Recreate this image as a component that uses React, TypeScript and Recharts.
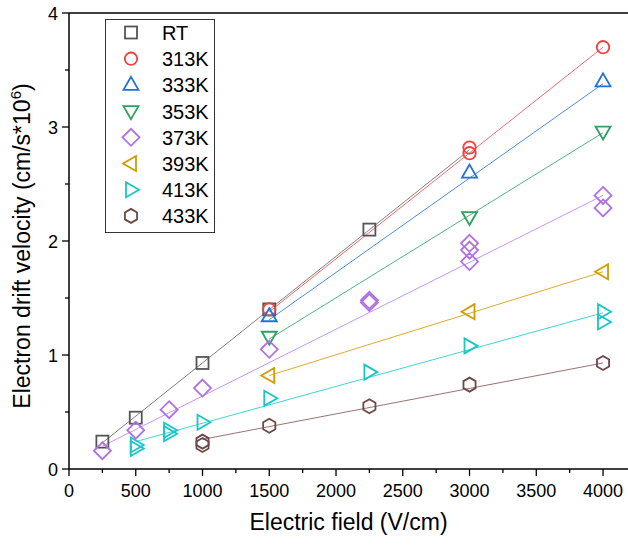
import React from 'react';
import { ScatterChart, Scatter, XAxis, YAxis, Legend, ReferenceLine } from 'recharts';

const FONT = '"Liberation Sans", Arial, sans-serif';

const xMajorTicks = [0, 500, 1000, 1500, 2000, 2500, 3000, 3500, 4000];
const xMinorTicks = [250, 750, 1250, 1750, 2250, 2750, 3250, 3750];
const yMajorTicks = [0, 1, 2, 3, 4];
const yMinorTicks = [0.5, 1.5, 2.5, 3.5];

const seriesNames = ['RT', '313K', '333K', '353K', '373K', '393K', '413K', '433K'];
const markerColors = ['#555555', '#F04040', '#2070E0', '#30A060', '#B070E6', '#D09C00', '#18C6C6', '#6E4848'];
const lineColors = ['#808080', '#F06A6A', '#4A8AF0', '#50B480', '#C498F0', '#DCAA30', '#40D4D4', '#9A7474'];
const markerShapes = ['square', 'circle', 'up', 'down', 'diamond', 'left', 'right', 'hexagon'];

// measured points [field, velocity]
const pointsRT = [[250, 0.24], [500, 0.45], [1000, 0.93], [1500, 1.40], [2250, 2.10]];
const points313 = [[1500, 1.40], [3000, 2.82], [3000, 2.77], [4000, 3.70]];
const points333 = [[1500, 1.34], [3000, 2.60], [4000, 3.40]];
const points353 = [[1500, 1.16], [3000, 2.21], [4000, 2.96]];
const points373 = [[250, 0.16], [500, 0.34], [750, 0.52], [1000, 0.71], [1500, 1.05], [2250, 1.48], [2250, 1.46], [3000, 1.98], [3000, 1.92], [3000, 1.82], [4000, 2.40], [4000, 2.29]];
const points393 = [[1500, 0.82], [3000, 1.38], [4000, 1.73]];
const points413 = [[500, 0.21], [500, 0.18], [750, 0.34], [750, 0.31], [1000, 0.41], [1500, 0.62], [2250, 0.85], [3000, 1.08], [4000, 1.38], [4000, 1.29]];
const points433 = [[1000, 0.24], [1000, 0.21], [1500, 0.38], [2250, 0.55], [3000, 0.74], [4000, 0.93]];

// linear fit lines [start, end]
const fitRT = [[250, 0.23], [3000, 2.80]];
const fit313 = [[1500, 1.38], [4000, 3.70]];
const fit333 = [[1500, 1.31], [4000, 3.38]];
const fit353 = [[1500, 1.14], [4000, 2.95]];
const fit373 = [[250, 0.20], [4000, 2.40]];
const fit393 = [[1500, 0.82], [4000, 1.73]];
const fit413 = [[500, 0.24], [4000, 1.37]];
const fit433 = [[1000, 0.26], [4000, 0.93]];

const allPoints = [pointsRT, points313, points333, points353, points373, points393, points413, points433];
const allFits = [fitRT, fit313, fit333, fit353, fit373, fit393, fit413, fit433];

const toObj = (arr: number[][]) => arr.map(([x, y]) => ({ x, y }));

function Marker({ cx, cy, shape, color }: { cx: number; cy: number; shape: string; color: string }) {
  const common = { fill: 'none', stroke: color, strokeWidth: 1.8 };
  switch (shape) {
    case 'square':
      return <rect x={cx - 6} y={cy - 6} width={12} height={12} {...common} />;
    case 'circle':
      return <circle cx={cx} cy={cy} r={6.2} {...common} />;
    case 'up':
      return <polygon points={`${cx},${cy - 8} ${cx + 7.5},${cy + 5} ${cx - 7.5},${cy + 5}`} {...common} />;
    case 'down':
      return <polygon points={`${cx},${cy + 8} ${cx + 7.5},${cy - 5} ${cx - 7.5},${cy - 5}`} {...common} />;
    case 'diamond':
      return <polygon points={`${cx},${cy - 8.5} ${cx + 8.5},${cy} ${cx},${cy + 8.5} ${cx - 8.5},${cy}`} {...common} />;
    case 'left':
      return <polygon points={`${cx - 8},${cy} ${cx + 5},${cy - 7.5} ${cx + 5},${cy + 7.5}`} {...common} />;
    case 'right':
      return <polygon points={`${cx + 8},${cy} ${cx - 5},${cy - 7.5} ${cx - 5},${cy + 7.5}`} {...common} />;
    case 'hexagon': {
      const r = 7;
      const pts = [90, 30, -30, -90, -150, 150]
        .map((a) => {
          const rad = (a * Math.PI) / 180;
          return `${cx + r * Math.cos(rad)},${cy - r * Math.sin(rad)}`;
        })
        .join(' ');
      return <polygon points={pts} {...common} />;
    }
    default:
      return <g />;
  }
}

const XTick = (props: any) => {
  const { x, y, payload } = props;
  const v = payload.value;
  const major = v % 500 === 0;
  return (
    <g>
      <line x1={x} y1={y} x2={x} y2={y + (major ? 7 : 4)} stroke="#000" strokeWidth={1.3} />
      {major && (
        <text x={x} y={y + 28} textAnchor="middle" fontSize={18} fill="#000" fontFamily={FONT}>
          {v}
        </text>
      )}
    </g>
  );
};

const YTick = (props: any) => {
  const { x, y, payload } = props;
  const v = payload.value;
  const major = Number.isInteger(v);
  return (
    <g>
      <line x1={x} y1={y} x2={x - (major ? 7 : 4)} y2={y} stroke="#000" strokeWidth={1.3} />
      {major && (
        <text x={x - 11} y={y + 6.5} textAnchor="end" fontSize={18} fill="#000" fontFamily={FONT}>
          {v}
        </text>
      )}
    </g>
  );
};

const LegendBox = () => {
  return (
    <svg width={111} height={215} style={{ display: 'block' }}>
      <rect x={0.5} y={0.5} width={109} height={213} fill="#fff" stroke="#333" strokeWidth={1} />
      {seriesNames.map((name, i) => {
        const cy = 13.5 + 26.2 * i;
        return (
          <g key={name}>
            <Marker cx={26} cy={cy} shape={markerShapes[i]} color={markerColors[i]} />
            <text x={57} y={cy + 7.5} fontSize={20} fill="#000" fontFamily={FONT}>
              {name}
            </text>
          </g>
        );
      })}
    </svg>
  );
};

const XTitle = (props: any) => {
  const { viewBox } = props;
  const cx = viewBox.x + viewBox.width / 2;
  return (
    <text x={cx} y={530} textAnchor="middle" fontSize={23} fill="#000" fontFamily={FONT}>
      Electric field (V/cm)
    </text>
  );
};

const YTitle = () => {
  return (
    <text
      x={0}
      y={0}
      transform="translate(30, 246) rotate(-90)"
      textAnchor="middle"
      fontSize={23}
      fill="#000"
      fontFamily={FONT}
    >
      Electron drift velocity (cm/s*10
      <tspan dy={-9} fontSize={15}>6</tspan>
      <tspan dy={9} fontSize={23}>)</tspan>
    </text>
  );
};

export default function App() {
  const xTicks = [...xMajorTicks, ...xMinorTicks].sort((a, b) => a - b);
  const yTicks = [...yMajorTicks, ...yMinorTicks].sort((a, b) => a - b);
  return (
    <div style={{ position: 'absolute', left: 0, top: 0, background: '#fff' }}>
      <ScatterChart width={628} height={546} margin={{ top: 13, right: 0, bottom: 47, left: 9 }}>
        <XAxis
          type="number"
          dataKey="x"
          domain={[0, 4187]}
          allowDataOverflow
          ticks={xTicks}
          interval={0}
          tick={<XTick />}
          tickLine={false}
          tickSize={0}
          tickMargin={0}
          height={30}
          axisLine={{ stroke: '#000', strokeWidth: 1.5 }}
          label={<XTitle />}
        />
        <YAxis
          type="number"
          dataKey="y"
          domain={[0, 4]}
          allowDataOverflow
          ticks={yTicks}
          interval={0}
          tick={<YTick />}
          tickLine={false}
          tickSize={0}
          tickMargin={0}
          width={60}
          axisLine={{ stroke: '#000', strokeWidth: 1.5 }}
          label={<YTitle />}
        />
        <ReferenceLine y={4} stroke="#000" strokeWidth={1.5} />
        {allFits.map((fit, i) => (
          <Scatter
            key={'fit' + i}
            data={toObj(fit)}
            line={{ stroke: lineColors[i], strokeWidth: 1 }}
            shape={() => <g />}
            isAnimationActive={false}
            legendType="none"
          />
        ))}
        {allPoints.map((pts, i) => (
          <Scatter
            key={'pts' + i}
            name={seriesNames[i]}
            data={toObj(pts)}
            shape={(p: any) => <Marker cx={p.cx} cy={p.cy} shape={markerShapes[i]} color={markerColors[i]} />}
            isAnimationActive={false}
          />
        ))}
        <Legend
          layout="vertical"
          align="center"
          verticalAlign="middle"
          content={<LegendBox />}
          wrapperStyle={{ left: 105, top: 19, width: 111, height: 215 }}
        />
      </ScatterChart>
    </div>
  );
}
